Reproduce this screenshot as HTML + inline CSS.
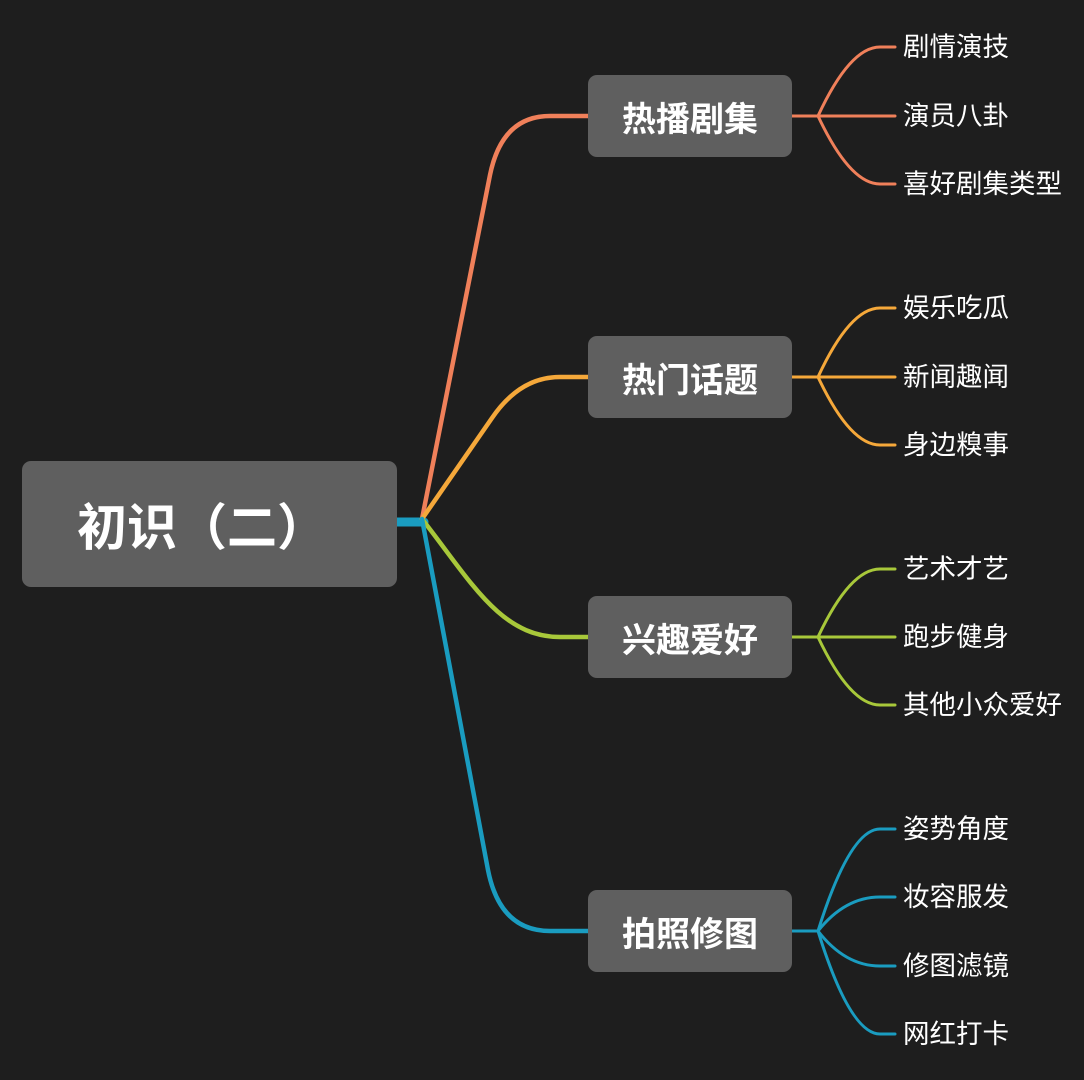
<!DOCTYPE html>
<html><head><meta charset="utf-8"><style>
html,body{margin:0;padding:0;background:#1e1e1e;}
body{width:1084px;height:1080px;position:relative;overflow:hidden;font-family:"Liberation Sans","Noto Sans CJK SC",sans-serif;}
.box{position:absolute;background:#5f5f5f;border-radius:9px;color:#fff;font-weight:bold;display:flex;align-items:center;justify-content:center;}
.leaf{position:absolute;color:#fff;font-size:26.5px;line-height:30px;left:903px;}
</style></head><body>
<svg width="1084" height="1080" style="position:absolute;left:0;top:0" fill="none" stroke-linecap="round">
<path d="M397 522 L424 522" stroke="#1a9cc0" stroke-width="9"/>
<path d="M422 519 L490 175 Q502 116 550 116 L590 116" stroke="#f0805a" stroke-width="4.5"/>
<path d="M422 519 L492 418 Q520 377 560 377 L590 377" stroke="#f5a83a" stroke-width="4.5"/>
<path d="M422 519 C 470 580, 500 637, 560 637 L590 637" stroke="#a8c83a" stroke-width="4.5"/>
<path d="M422 519 L488 870 Q500 931 550 931 L590 931" stroke="#1a9cc0" stroke-width="4.5"/>
<g stroke="#f0805a" stroke-width="3">
<path d="M792 116 L895 116"/><path d="M818 116 Q850 47 880 47 L895 47"/><path d="M818 116 Q850 184 880 184 L895 184"/></g>
<g stroke="#f5a83a" stroke-width="3">
<path d="M792 377 L895 377"/><path d="M818 377 Q850 308 880 308 L895 308"/><path d="M818 377 Q850 445 880 445 L895 445"/></g>
<g stroke="#a8c83a" stroke-width="3">
<path d="M792 637 L895 637"/><path d="M818 637 Q850 569 880 569 L895 569"/><path d="M818 637 Q850 705 880 705 L895 705"/></g>
<g stroke="#1a9cc0" stroke-width="3">
<path d="M792 931 L818 931"/><path d="M818 931 Q850 829 880 829 L895 829"/><path d="M818 931 Q845 897 880 897 L895 897"/><path d="M818 931 Q845 966 880 966 L895 966"/><path d="M818 931 Q850 1034 880 1034 L895 1034"/></g>
</svg>
<div class="box" style="left:22px;top:461px;width:375px;height:126px;font-size:50px;justify-content:flex-start;padding-left:55px;box-sizing:border-box;">初识（二）</div>
<div class="box" style="left:588px;top:75px;width:204px;height:82px;font-size:34px;">热播剧集</div>
<div class="box" style="left:588px;top:336px;width:204px;height:82px;font-size:34px;">热门话题</div>
<div class="box" style="left:588px;top:596px;width:204px;height:82px;font-size:34px;">兴趣爱好</div>
<div class="box" style="left:588px;top:890px;width:204px;height:82px;font-size:34px;">拍照修图</div>
<div class="leaf" style="top:32px">剧情演技</div>
<div class="leaf" style="top:101px">演员八卦</div>
<div class="leaf" style="top:169px">喜好剧集类型</div>
<div class="leaf" style="top:293px">娱乐吃瓜</div>
<div class="leaf" style="top:362px">新闻趣闻</div>
<div class="leaf" style="top:430px">身边糗事</div>
<div class="leaf" style="top:554px">艺术才艺</div>
<div class="leaf" style="top:622px">跑步健身</div>
<div class="leaf" style="top:690px">其他小众爱好</div>
<div class="leaf" style="top:814px">姿势角度</div>
<div class="leaf" style="top:882px">妆容服发</div>
<div class="leaf" style="top:951px">修图滤镜</div>
<div class="leaf" style="top:1019px">网红打卡</div>
</body></html>
